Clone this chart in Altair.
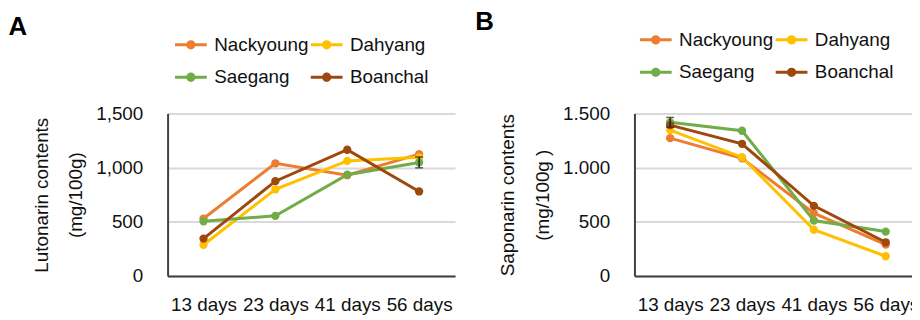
import altair as alt
import pandas as pd

days = ["13 days", "23 days", "41 days", "56 days"]
cultivars = ["Nackyoung", "Dahyang", "Saegang", "Boanchal"]
colors = ["#ED7D31", "#FFC000", "#70AD47", "#9E480E"]

lutonarin_nackyoung = [530, 1040, 930, 1125]
lutonarin_dahyang = [288, 800, 1062, 1095]
lutonarin_saegang = [505, 555, 935, 1048]
lutonarin_boanchal = [345, 875, 1165, 780]

saponarin_nackyoung = [1272, 1085, 580, 290]
saponarin_dahyang = [1346, 1096, 427, 182]
saponarin_saegang = [1418, 1340, 512, 410]
saponarin_boanchal = [1392, 1220, 647, 311]

# visible error bars: (cultivar, day, mean, error)
lutonarin_err = [("Saegang", "56 days", 1048, 50)]
saponarin_err = [("Saegang", "13 days", 1418, 45)]

FONT = "Liberation Sans"
FS = 19
LEGEND_PATH = ("M-1,0L1,0 M-0.2,0a0.2,0.2 0 1,0 0.4,0a0.2,0.2 0 1,0 -0.4,0 "
               "M-0.1,0a0.1,0.1 0 1,0 0.2,0a0.1,0.1 0 1,0 -0.2,0")


def long_df(series):
    rows = []
    for name, vals in zip(cultivars, series):
        for d, v in zip(days, vals):
            rows.append({"day": d, "cultivar": name, "value": v})
    return pd.DataFrame(rows)


def panel(series, errs, title_lines, letter, width, pad, align, label_expr,
          leg_x, leg_y):
    df = long_df(series)
    edf = pd.DataFrame([{"day": d, "cultivar": c, "value": m - e, "hi": m + e}
                        for c, d, m, e in errs])
    xscale = alt.Scale(type="point", padding=pad, align=align)
    yscale = alt.Scale(domain=[0, 1500])
    xax = alt.Axis(title=None, labelAngle=0, ticks=False, grid=False,
                   domainColor="#404040", domainWidth=2, labelFontSize=FS,
                   labelFont=FONT, labelColor="#111111", labelPadding=20)
    yax = alt.Axis(values=[0, 500, 1000, 1500], labelExpr=label_expr,
                   ticks=False, grid=True, gridColor="#d9d9d9", gridWidth=2,
                   domainColor="#404040", domainWidth=2,
                   labelFontSize=FS, labelFont=FONT, labelColor="#111111",
                   labelPadding=25, title=title_lines, titleFontSize=FS,
                   titleFont=FONT, titleFontWeight="normal",
                   titleColor="#111111", titleLineHeight=35,
                   titlePadding=10)
    lines = alt.Chart(df).mark_line(
        strokeWidth=3,
        point=alt.OverlayMarkDef(filled=True, size=70),
    ).encode(
        x=alt.X("day:N", sort=days, scale=xscale, axis=xax),
        y=alt.Y("value:Q", scale=yscale, axis=yax),
        color=alt.Color(
            "cultivar:N",
            scale=alt.Scale(domain=cultivars, range=colors),
            legend=alt.Legend(
                orient="none", legendX=leg_x, legendY=leg_y, columns=2,
                direction="horizontal",
                title=None, symbolType=LEGEND_PATH, symbolSize=1024,
                symbolStrokeWidth=3, labelFontSize=FS, labelFont=FONT,
                labelColor="#111111", labelOffset=6, rowPadding=5,
                columnPadding=-6, padding=0,
            ),
        ),
    )
    err = alt.Chart(edf).mark_errorbar(ticks=alt.TickConfig(size=8), color="#222222",
                                       thickness=1.5).encode(
        x=alt.X("day:N", sort=days, scale=xscale, axis=xax),
        y=alt.Y("value:Q", scale=yscale, axis=yax),
        y2="hi:Q",
    )
    return alt.layer(lines, err).properties(
        width=width, height=164,
        title=alt.TitleParams(letter, anchor="start", frame="bounds",
                              fontSize=26, fontWeight="bold", font=FONT,
                              color="#000000", dx=-24, dy=17),
    )


a = panel([lutonarin_nackyoung, lutonarin_dahyang, lutonarin_saegang, lutonarin_boanchal],
          lutonarin_err, ["Lutonarin contents", "(mg/100g)"], "A", 290, 0.5, 0.5,
          "format(datum.value, ',.0f')", 6, -87)
b = panel([saponarin_nackyoung, saponarin_dahyang, saponarin_saegang, saponarin_boanchal],
          saponarin_err, ["Saponarin contents", "(mg/100g )"], "B", 283, 0.4517, 0.5496,
          "replace(format(datum.value, ',.0f'), ',', '.')", 4, -92)

chart = alt.hconcat(a, b, spacing=20).resolve_scale(color="independent").properties(
    padding={"left": 0, "top": 0, "right": -7, "bottom": 0}
).configure_view(strokeWidth=0)

chart.save("out.html", embed_options={"renderer": "svg", "actions": False})
